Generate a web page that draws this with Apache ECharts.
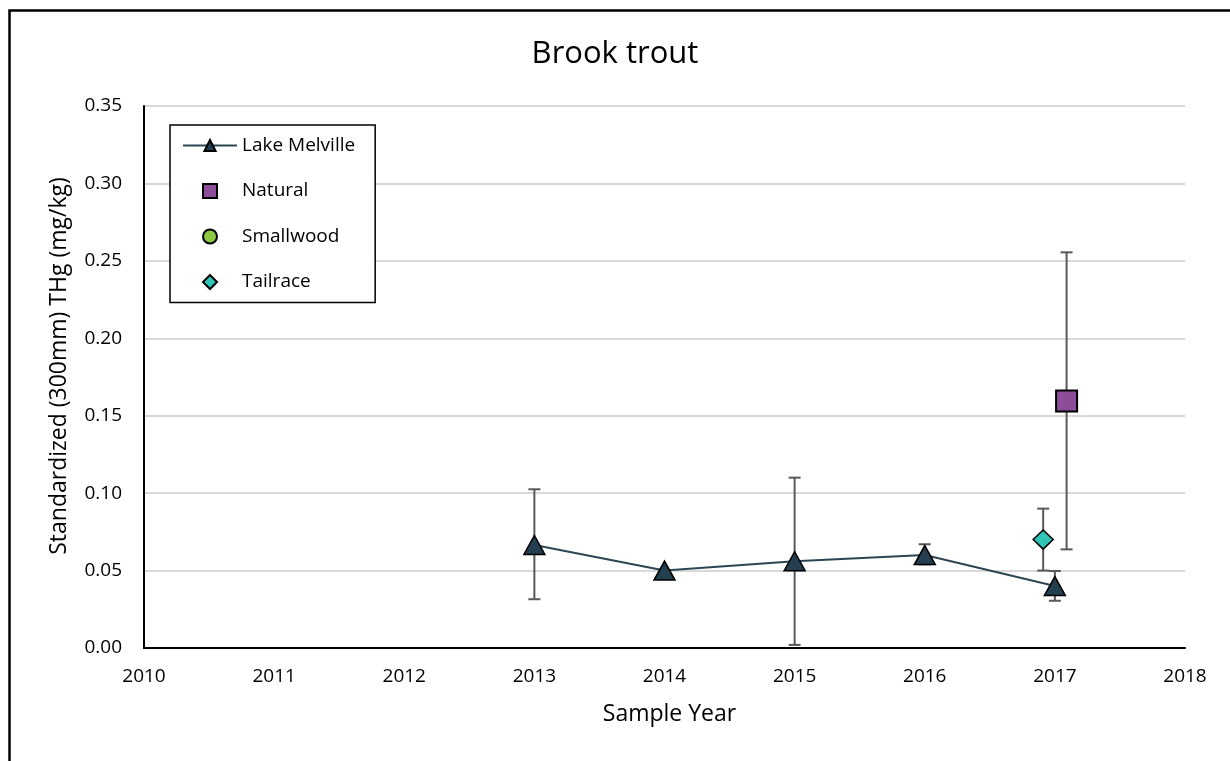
<!DOCTYPE html>
<html>
<head>
<meta charset="utf-8">
<script src="https://cdn.jsdelivr.net/npm/echarts@6/dist/echarts.min.js"></script>
<style>html,body{margin:0;padding:0;background:#fff}#c{width:1230px;height:761px}</style>
</head>
<body>
<div id="c"></div>
<script>
const xTicks = [2010, 2011, 2012, 2013, 2014, 2015, 2016, 2017, 2018];
const yTicks = [0, 0.05, 0.10, 0.15, 0.20, 0.25, 0.30, 0.35];

// Lake Melville
const lakeYears = [2013, 2014, 2015, 2016, 2017];
const lakeMean  = [0.0665, 0.050, 0.056, 0.060, 0.040];
const lakeLow   = [0.0315, 0.050, 0.002, 0.054, 0.0305];
const lakeHigh  = [0.1025, 0.050, 0.110, 0.067, 0.0497];

// Natural
const naturalYears = [2017.09];
const naturalMean  = [0.1595];
const naturalLow   = [0.0637];
const naturalHigh  = [0.2555];

// Smallwood (no data for brook trout)
const smallwoodYears = [];
const smallwoodMean  = [];

// Tailrace
const tailraceYears = [2016.91];
const tailraceMean  = [0.070];
const tailraceLow   = [0.050];
const tailraceHigh  = [0.090];

const font = '"Open Sans", "Noto Sans", sans-serif';

function pts(xs, ys) { return xs.map((x, i) => [x, ys[i]]); }
function errs(xs, lo, hi) { return xs.map((x, i) => [x, lo[i], hi[i]]).filter(d => d[2] - d[1] > 0.0001); }

function errorSeries(data) {
  return {
    type: 'custom',
    silent: true,
    z: 1,
    data: data,
    encode: { x: 0, y: [1, 2] },
    renderItem: function (params, api) {
      const x = api.value(0);
      const lo = api.coord([x, api.value(1)]);
      const hi = api.coord([x, api.value(2)]);
      const w = 6;
      const st = { stroke: '#595959', lineWidth: 2 };
      return {
        type: 'group',
        children: [
          { type: 'line', shape: { x1: hi[0], y1: hi[1], x2: lo[0], y2: lo[1] }, style: st },
          { type: 'line', shape: { x1: hi[0] - w, y1: hi[1], x2: hi[0] + w, y2: hi[1] }, style: st },
          { type: 'line', shape: { x1: lo[0] - w, y1: lo[1], x2: lo[0] + w, y2: lo[1] }, style: st }
        ]
      };
    }
  };
}

const chart = echarts.init(document.getElementById('c'));
chart.setOption({
  animation: false,
  backgroundColor: '#fff',
  title: {
    text: 'Brook trout', left: 'center', top: 39, padding: 0,
    textStyle: { fontFamily: font, fontSize: 31, fontWeight: 'normal', color: '#000' }
  },
  graphic: [{
    type: 'rect', left: 7, top: 8, silent: true,
    shape: { width: 1400, height: 900 },
    style: { fill: 'none', stroke: '#000', lineWidth: 2.5 }
  }],
  grid: { left: 144, right: 45, top: 106, bottom: 113 },
  legend: {
    orient: 'vertical', left: 170, top: 125,
    backgroundColor: '#fff', borderColor: '#000', borderWidth: 1.5,
    padding: [11, 20, 11, 12],
    itemWidth: 54, itemHeight: 14, itemGap: 26.5,
    textStyle: { fontFamily: font, fontSize: 19, color: '#000' },
    data: [
      { name: 'Lake Melville' },
      { name: 'Natural', icon: 'path://M0,0L1,0L1,1L0,1Z' },
      { name: 'Smallwood', icon: 'circle' },
      { name: 'Tailrace', icon: 'path://M0.5,0L1,0.5L0.5,1L0,0.5Z' }
    ]
  },
  xAxis: {
    type: 'value', min: 2010, max: 2018, interval: 1,
    name: 'Sample Year', nameLocation: 'middle', nameGap: 55,
    nameTextStyle: { fontFamily: font, fontSize: 23, color: '#000', padding: [0, 0, 0, 10] },
    axisLine: { lineStyle: { color: '#000', width: 2 } },
    axisTick: { show: false },
    splitLine: { show: false },
    axisLabel: { fontFamily: font, fontSize: 19, color: '#000', margin: 19,
      formatter: v => xTicks.includes(v) ? String(v) : '' }
  },
  yAxis: {
    type: 'value', min: 0, max: 0.35, interval: 0.05,
    name: 'Standardized (300mm) THg (mg/kg)', nameLocation: 'middle', nameGap: 73,
    nameTextStyle: { fontFamily: font, fontSize: 23, color: '#000', padding: [0, 0, 0, 22] },
    axisLine: { show: true, lineStyle: { color: '#000', width: 2 } },
    axisTick: { show: false },
    splitLine: { lineStyle: { color: '#d9d9d9', width: 2 } },
    axisLabel: { fontFamily: font, fontSize: 19, color: '#000', margin: 22,
      formatter: v => yTicks.find(t => Math.abs(t - v) < 1e-9) !== undefined ? v.toFixed(2) : '' }
  },
  series: [
    errorSeries(errs(lakeYears, lakeLow, lakeHigh)),
    errorSeries(errs(naturalYears, naturalLow, naturalHigh)),
    errorSeries(errs(tailraceYears, tailraceLow, tailraceHigh)),
    {
      name: 'Lake Melville', type: 'line', z: 3,
      data: pts(lakeYears, lakeMean),
      symbol: 'triangle', symbolSize: [21, 19],
      lineStyle: { color: '#2c4654', width: 2 },
      itemStyle: { color: '#243f4f', borderColor: '#000', borderWidth: 1.5, opacity: 1 }
    },
    {
      name: 'Natural', type: 'scatter', z: 3,
      data: pts(naturalYears, naturalMean),
      symbol: 'rect', symbolSize: 21,
      itemStyle: { color: '#8c4d99', borderColor: '#000', borderWidth: 2, opacity: 1 }
    },
    {
      name: 'Smallwood', type: 'scatter', z: 3,
      data: pts(smallwoodYears, smallwoodMean),
      symbol: 'circle', symbolSize: 14,
      itemStyle: { color: '#8dc63f', borderColor: '#000', borderWidth: 1.5, opacity: 1 }
    },
    {
      name: 'Tailrace', type: 'scatter', z: 3,
      data: pts(tailraceYears, tailraceMean),
      symbol: 'diamond', symbolSize: [20, 19],
      itemStyle: { color: '#2ec4b6', borderColor: '#000', borderWidth: 1.5, opacity: 1 }
    }
  ]
});
</script>
</body>
</html>
